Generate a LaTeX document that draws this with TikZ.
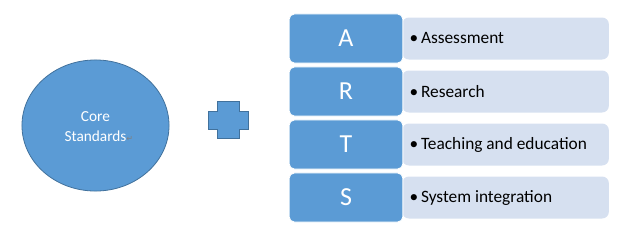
\documentclass[tikz,border=0pt]{standalone}
\usepackage{fontspec}
\setmainfont{Carlito}
\newfontfamily\symfont{DejaVu Sans}
\usepackage{xcolor}
\usetikzlibrary{positioning, shapes.geometric}

\definecolor{artsblue}{HTML}{5B9BD5}
\definecolor{artsedge}{HTML}{41719C}
\definecolor{artslight}{HTML}{D6E0F0}

\tikzset{
    keybox/.style={fill=artsblue, draw=white, line width=0.6pt, rounded corners=4pt,
        minimum width=85.3pt, minimum height=36.8pt, text=white, font=\fontsize{19.5}{21}\selectfont},
    itembox/.style={fill=artslight, draw=none, rounded corners=5pt,
        minimum width=155pt, minimum height=31.5pt},
    itemtext/.style={anchor=west, font=\fontsize{13}{16}\selectfont, text=black}
}

\begin{document}
\begin{tikzpicture}[x=0.75pt, y=-0.75pt]
    \useasboundingbox (0, 0) rectangle (638, 232);

    % core circle
    \node[ellipse, fill=artsblue, draw=artsedge, line width=0.6pt,
          minimum width=110.3pt, minimum height=98.3pt] (core) at (95.5, 125.5) {};
    \node[font=\fontsize{11.5}{15}\selectfont, text=white, align=center] (corelabel) at (95.5, 127)
        {Core\\Standards\rlap{\textcolor{gray}{\symfont\fontsize{6}{6}\selectfont ↵}}};

    % plus sign
    \filldraw[fill=artsblue, draw=artsedge, line width=0.5pt]
        (217, 101) -- (239, 101) -- (239, 111) -- (248, 111) -- (248, 129) -- (239, 129)
        -- (239, 138) -- (217, 138) -- (217, 129) -- (208, 129) -- (208, 111) -- (217, 111) -- cycle;

    % A R T S rows
    \foreach \l/\t [count=\i] in {A/Assessment, R/Research, T/Teaching and education, S/System integration} {
        \pgfmathsetmacro{\yc}{38.5 + (\i-1)*53}
        \node[itembox] (item\i) at (505.5, \yc) {};
        \node[keybox] (key\i) at (346, \yc) {\l};
        \node[itemtext] (text\i) at (405, \yc) {\textbullet\hspace{2pt}\t};
    }
\end{tikzpicture}
\end{document}
